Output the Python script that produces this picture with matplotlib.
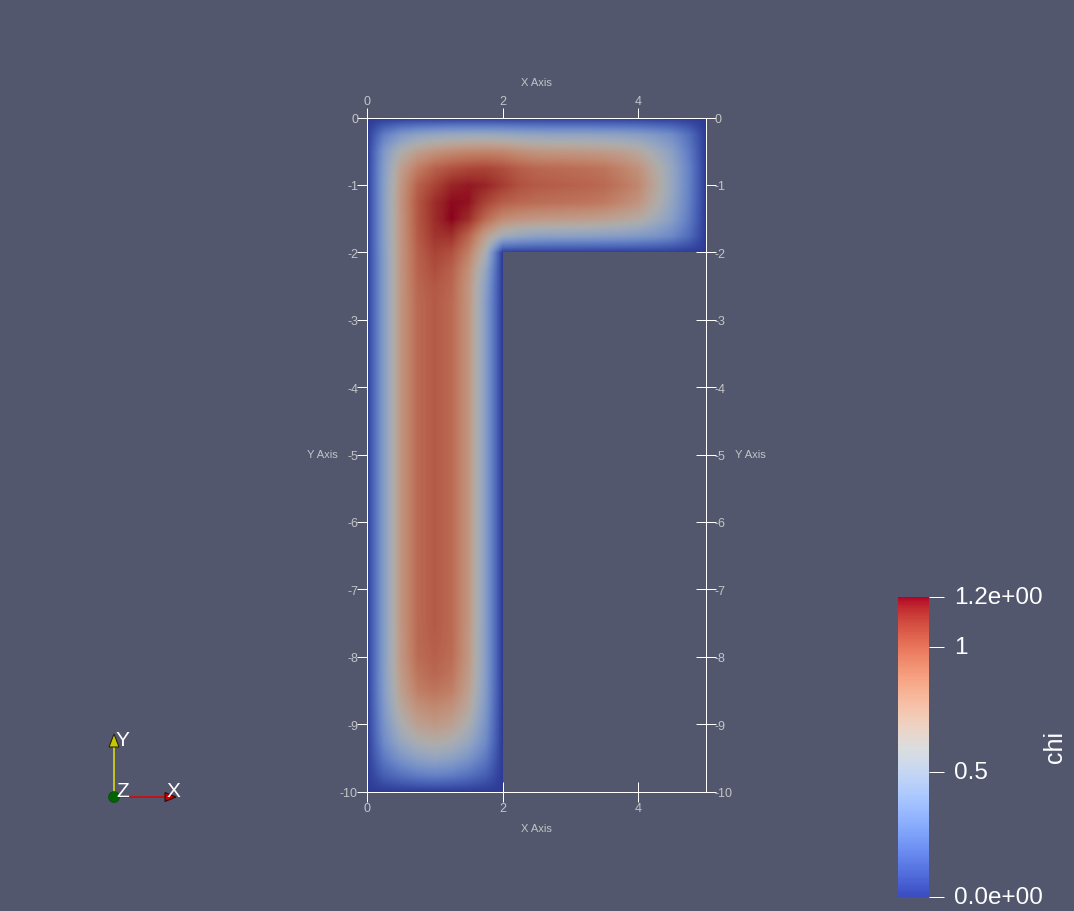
import numpy as np
import matplotlib
matplotlib.use("Agg")
import matplotlib.pyplot as plt
from matplotlib.colors import ListedColormap, Normalize
from matplotlib.cm import ScalarMappable
from matplotlib.patches import Polygon, Circle
from matplotlib.transforms import ScaledTranslation

plt.rcParams['font.family'] = ['Liberation Sans', 'DejaVu Sans']
plt.rcParams['axes.axisbelow'] = True

W, H = 1074, 912
BG = '#52576e'
GREY = '#c4c4c6'

# chi on a 0.25 grid, x = 0 .. 5 along each row
# horizontal arm, y = 0 .. -1.75
chi_top = [
    [0, 0, 0, 0, 0, 0, 0, 0, 0, 0, 0, 0, 0, 0, 0, 0, 0, 0, 0, 0, 0],
    [0, .25, .38, .45, .48, .50, .51, .51, .50, .48, .47, .46, .46, .46, .45, .44, .42, .38, .32, .19, 0],
    [0, .38, .60, .72, .78, .82, .84, .85, .84, .80, .77, .76, .76, .75, .74, .71, .66, .55, .43, .24, 0],
    [0, .41, .72, .88, .98, 1.03, 1.06, 1.07, 1.04, .99, .96, .95, .94, .93, .91, .86, .79, .65, .48, .27, 0],
    [0, .42, .76, .98, 1.07, 1.15, 1.17, 1.15, 1.09, 1.03, 1.0, .99, .98, .97, .95, .90, .84, .68, .49, .27, 0],
    [0, .42, .78, 1.01, 1.13, 1.19, 1.18, 1.07, .99, .96, .94, .93, .92, .91, .89, .84, .78, .64, .47, .26, 0],
    [0, .42, .77, 1.01, 1.13, 1.20, 1.13, .95, .82, .78, .76, .75, .74, .73, .71, .68, .64, .54, .42, .24, 0],
    [0, .42, .77, 1.0, 1.11, 1.12, .97, .72, .54, .48, .45, .44, .44, .43, .42, .41, .39, .36, .30, .18, 0],
]

# vertical arm, y = -2 .. -10, x = 0 .. 2 along each row
chi_left = [
    [0, .41, .77, .98, 1.07, 1.03, .87, .58, 0],
    [0, .41, .77, .97, 1.04, .98, .80, .48, 0],
    [0, .41, .77, .96, 1.01, .96, .77, .43, 0],
    [0, .41, .77, .95, 1.0, .95, .77, .41, 0],
    [0, .41, .77, .95, 1.0, .95, .77, .41, 0],
    [0, .41, .77, .95, 1.0, .95, .77, .41, 0],
    [0, .41, .77, .95, 1.0, .95, .77, .41, 0],
    [0, .41, .77, .95, 1.0, .95, .77, .41, 0],
    [0, .41, .77, .95, 1.0, .95, .77, .41, 0],
    [0, .41, .77, .95, 1.0, .95, .77, .41, 0],
    [0, .41, .77, .95, 1.0, .95, .77, .41, 0],
    [0, .41, .77, .95, 1.0, .95, .77, .41, 0],
    [0, .41, .77, .95, 1.0, .95, .77, .41, 0],
    [0, .41, .77, .95, 1.0, .95, .77, .41, 0],
    [0, .41, .77, .95, 1.0, .95, .77, .41, 0],
    [0, .41, .77, .95, 1.0, .95, .77, .41, 0],
    [0, .41, .77, .95, 1.0, .95, .77, .41, 0],
    [0, .41, .77, .95, 1.0, .95, .77, .41, 0],
    [0, .41, .77, .95, 1.0, .95, .77, .41, 0],
    [0, .41, .77, .95, 1.0, .95, .77, .41, 0],
    [0, .41, .77, .95, 1.0, .95, .77, .41, 0],
    [0, .41, .77, .95, 1.0, .95, .77, .41, 0],
    [0, .41, .77, .95, 1.0, .95, .77, .41, 0],
    [0, .41, .76, .95, .99, .95, .76, .41, 0],
    [0, .41, .76, .94, .98, .94, .76, .41, 0],
    [0, .41, .74, .91, .96, .91, .74, .41, 0],
    [0, .40, .71, .87, .91, .87, .71, .40, 0],
    [0, .38, .66, .79, .83, .79, .66, .38, 0],
    [0, .35, .58, .71, .75, .71, .58, .35, 0],
    [0, .31, .49, .59, .63, .59, .49, .31, 0],
    [0, .23, .36, .44, .47, .44, .36, .23, 0],
    [0, .13, .20, .25, .27, .25, .20, .13, 0],
    [0, 0, 0, 0, 0, 0, 0, 0, 0],
]

x_ticks = [0, 2, 4]
y_ticks = [0, -1, -2, -3, -4, -5, -6, -7, -8, -9, -10]
cbar_ticks = [0, .5, 1, 1.2]
cbar_labels = ['0.0e+00', '0.5', '1', '1.2e+00']
domain_outline = [(0, 0), (5, 0), (5, -2), (2, -2), (2, -10), (0, -10)]


def box(left, top, right, bottom):
    return [left / W, 1 - bottom / H, (right - left) / W, (bottom - top) / H]


def px(n):
    return n * 0.72


norm = Normalize(0, 1.2)
# the surface is lit in the render so it comes out darker than the legend
lit = plt.cm.coolwarm(np.linspace(0, 1, 256))[:, :3] * 0.78
lit_cmap = ListedColormap(lit)

fig = plt.figure(figsize=(W / 100, H / 100), dpi=100, facecolor=BG)

ax = fig.add_axes(box(367, 118.5, 706, 792.5))
ax.set_facecolor('none')

# outside the L the field is simply 0, the clip path cuts it away
top = np.array(chi_top, dtype=float)
left = np.array(chi_left, dtype=float)
outside = np.zeros((left.shape[0], top.shape[1] - left.shape[1]))
grid = np.vstack([top, np.hstack([left, outside])])

im = ax.imshow(grid, extent=(-.125, 5.125, -10.125, .125), origin='upper', aspect='auto',
               cmap=lit_cmap, norm=norm, interpolation='bilinear',
               interpolation_stage='data', zorder=1)
clip = Polygon(domain_outline, closed=True, transform=ax.transData, fc='none', ec='none')
ax.add_patch(clip)
im.set_clip_path(clip)

ax.set_xlim(0, 5)
ax.set_ylim(-10, 0)
ax.set_xticks(x_ticks)
ax.set_yticks(y_ticks)
ax.set_yticklabels([str(v) for v in y_ticks])
ax.tick_params(direction='inout', length=px(20), width=px(1), color='white',
               labelcolor=GREY, labelsize=9,
               top=True, right=True, labeltop=True, labelright=True)
ax.tick_params(axis='x', pad=px(0))
ax.tick_params(axis='y', pad=px(-1))
for s in ax.spines.values():
    s.set_color('white')
    s.set_linewidth(px(1))

for tx, ty, label in [(536, 83, 'X Axis'), (536, 829, 'X Axis'), (322, 455, 'Y Axis'), (750, 455, 'Y Axis')]:
    fig.text(tx / W, 1 - ty / H, label, color=GREY, fontsize=8, ha='center', va='center')

# legend
cax = fig.add_axes(box(898, 597.5, 929, 898))
cb = fig.colorbar(ScalarMappable(norm=norm, cmap='coolwarm'), cax=cax)
cb.outline.set_visible(False)
cb.set_ticks(cbar_ticks)
cb.set_ticklabels(cbar_labels)
cax.tick_params(axis='y', direction='out', length=px(15), width=px(1), color='white',
                labelcolor='white', labelsize=17.5, pad=px(10))
shift = ScaledTranslation(0, 2 / 72 * 0.72, fig.dpi_scale_trans)
for lab in cax.get_yticklabels():
    lab.set_transform(lab.get_transform() + shift)
fig.text(1055 / W, 1 - 747 / H, 'chi', color='white', fontsize=18, rotation=90,
         ha='center', va='center')

# orientation triad, in screen pixels
tri = fig.add_axes([0, 0, 1, 1])
tri.set_xlim(0, W)
tri.set_ylim(H, 0)
tri.axis('off')
tri.plot([114, 114], [798, 745], color='#e6e600', lw=px(1.5), zorder=2)
tri.plot([114, 167], [798, 798], color='#e00000', lw=px(1.5), zorder=2)
tri.add_patch(Polygon([[114, 735], [109, 748], [119, 748]], fc='#c8c800', ec='#202000', lw=px(1), zorder=3))
tri.add_patch(Polygon([[176, 798], [165, 793.5], [165, 802.5]], fc='#c80000', ec='#300000', lw=px(1), zorder=3))
tri.add_patch(Circle((114, 798), 5.5, fc='#006400', ec='#004000', lw=px(.5), zorder=4))
for label, tx, ty in [('Y', 122.5, 741), ('Z', 123, 792), ('X', 173, 792)]:
    tri.text(tx, ty, label, color='white', fontsize=15, ha='center', va='center', zorder=5)

fig.savefig('out.png', dpi=100, facecolor=BG)
